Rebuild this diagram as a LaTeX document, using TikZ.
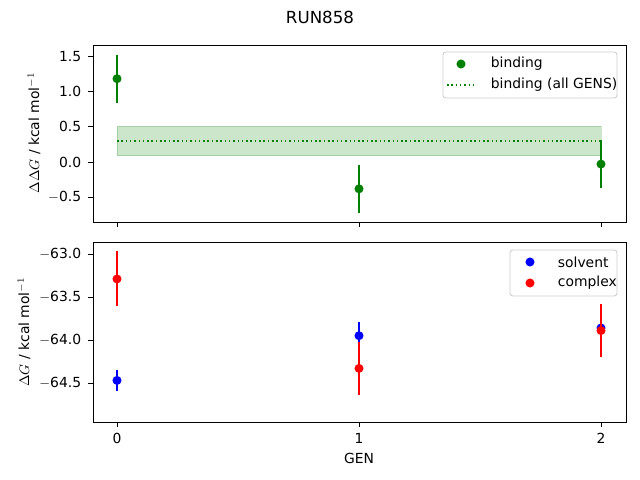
\documentclass[tikz,border=0pt]{standalone}
\usepackage{fontspec}
\setmainfont{DejaVu Sans}
\usepackage{tikz}
\definecolor{mplgreen}{RGB}{0,128,0}

\tikzset{
  axbox/.style={draw=black, line width=0.6pt},
  tick/.style={line width=0.6pt},
  ticklab/.style={font=\fontsize{10}{12}\selectfont},
  errbar/.style={line width=1.1pt},
  dot/.style={circle, inner sep=0pt, minimum size=6.5pt},
  legbox/.style={draw=black!20, fill=white, rounded corners=2pt, line width=0.6pt}
}

\begin{document}
\begin{tikzpicture}[x=0.72pt, y=-0.72pt]
    \useasboundingbox (0,0) rectangle (640,480);
    \node[font=\fontsize{12}{14}\selectfont] (title) at (320,17) {RUN858};

    % top panel: binding
    \draw[axbox] (93,45) rectangle (626,222);
    \foreach \v/\t in {1.5/1.5,1.0/1.0,0.5/0.5,0.0/0.0,-0.5/$-$0.5} {
        \draw[tick] (93,162-70.6*\v) -- ++(-5,0);
        \node[ticklab, anchor=east] at (86,162-70.6*\v) {\t};
    }
    \foreach \g in {0,1,2}
        \draw[tick] (117+242*\g,222) -- ++(0,5);
    \node[ticklab, rotate=90] (ylabtop) at (34,133) {$\Delta\Delta G$ / kcal mol$^{-1}$};

    \begin{scope}[shift={(117,162)}, x=174.24pt, y=50.83pt]
        \fill[mplgreen, opacity=0.2] (0,0.09) rectangle (2,0.51);
        \draw[mplgreen, opacity=0.2, line width=0.6pt] (0,0.09) rectangle (2,0.51);
        \draw[mplgreen, dotted, line width=1.1pt] (0,0.30) -- (2,0.30);
        \foreach \g/\m in {0/1.18, 1/-0.38, 2/-0.03} {
            \draw[errbar, mplgreen] (\g,\m-0.34) -- (\g,\m+0.34);
            \node[dot, fill=mplgreen] at (\g,\m) {};
        }
    \end{scope}

    \draw[legbox] (443,52) rectangle (617,98);
    \node[dot, fill=mplgreen] (lgbind) at (461,64) {};
    \node[ticklab, anchor=west] at (486,64) {binding};
    \draw[mplgreen, dotted, line width=1.1pt] (447,85) -- (475,85);
    \node[ticklab, anchor=west] at (486,85) {binding (all GENS)};

    % bottom panel: solvent and complex
    \draw[axbox] (93,242) rectangle (626,422);
    \foreach \v/\t in {0/$-$63.0,-0.5/$-$63.5,-1/$-$64.0,-1.5/$-$64.5} {
        \draw[tick] (93,254-86*\v) -- ++(-5,0);
        \node[ticklab, anchor=east] at (86,254-86*\v) {\t};
    }
    \foreach \g in {0,1,2} {
        \draw[tick] (117+242*\g,422) -- ++(0,5);
        \node[ticklab] at (117+242*\g,438) {\g};
    }
    \node[ticklab, rotate=90] (ylabbot) at (24,332) {$\Delta G$ / kcal mol$^{-1}$};
    \node[ticklab] (xlab) at (359,458) {GEN};

    \begin{scope}[shift={(117,254)}, x=174.24pt, y=61.92pt]
        \foreach \g/\m/\e in {0/-1.47/0.12, 1/-0.95/0.16, 2/-0.86/0.03} {
            \draw[errbar, blue] (\g,\m-\e) -- (\g,\m+\e);
            \node[dot, fill=blue] at (\g,\m) {};
        }
        \foreach \g/\m/\e in {0/-0.29/0.32, 1/-1.33/0.31, 2/-0.89/0.31} {
            \draw[errbar, red] (\g,\m-\e) -- (\g,\m+\e);
            \node[dot, fill=red] at (\g,\m) {};
        }
    \end{scope}

    \draw[legbox] (510,250) rectangle (617,296);
    \node[dot, fill=blue] (lgsolv) at (530,262) {};
    \node[ticklab, anchor=west] at (553,262) {solvent};
    \node[dot, fill=red] (lgcplx) at (530,283) {};
    \node[ticklab, anchor=west] at (553,283) {complex};
\end{tikzpicture}
\end{document}
